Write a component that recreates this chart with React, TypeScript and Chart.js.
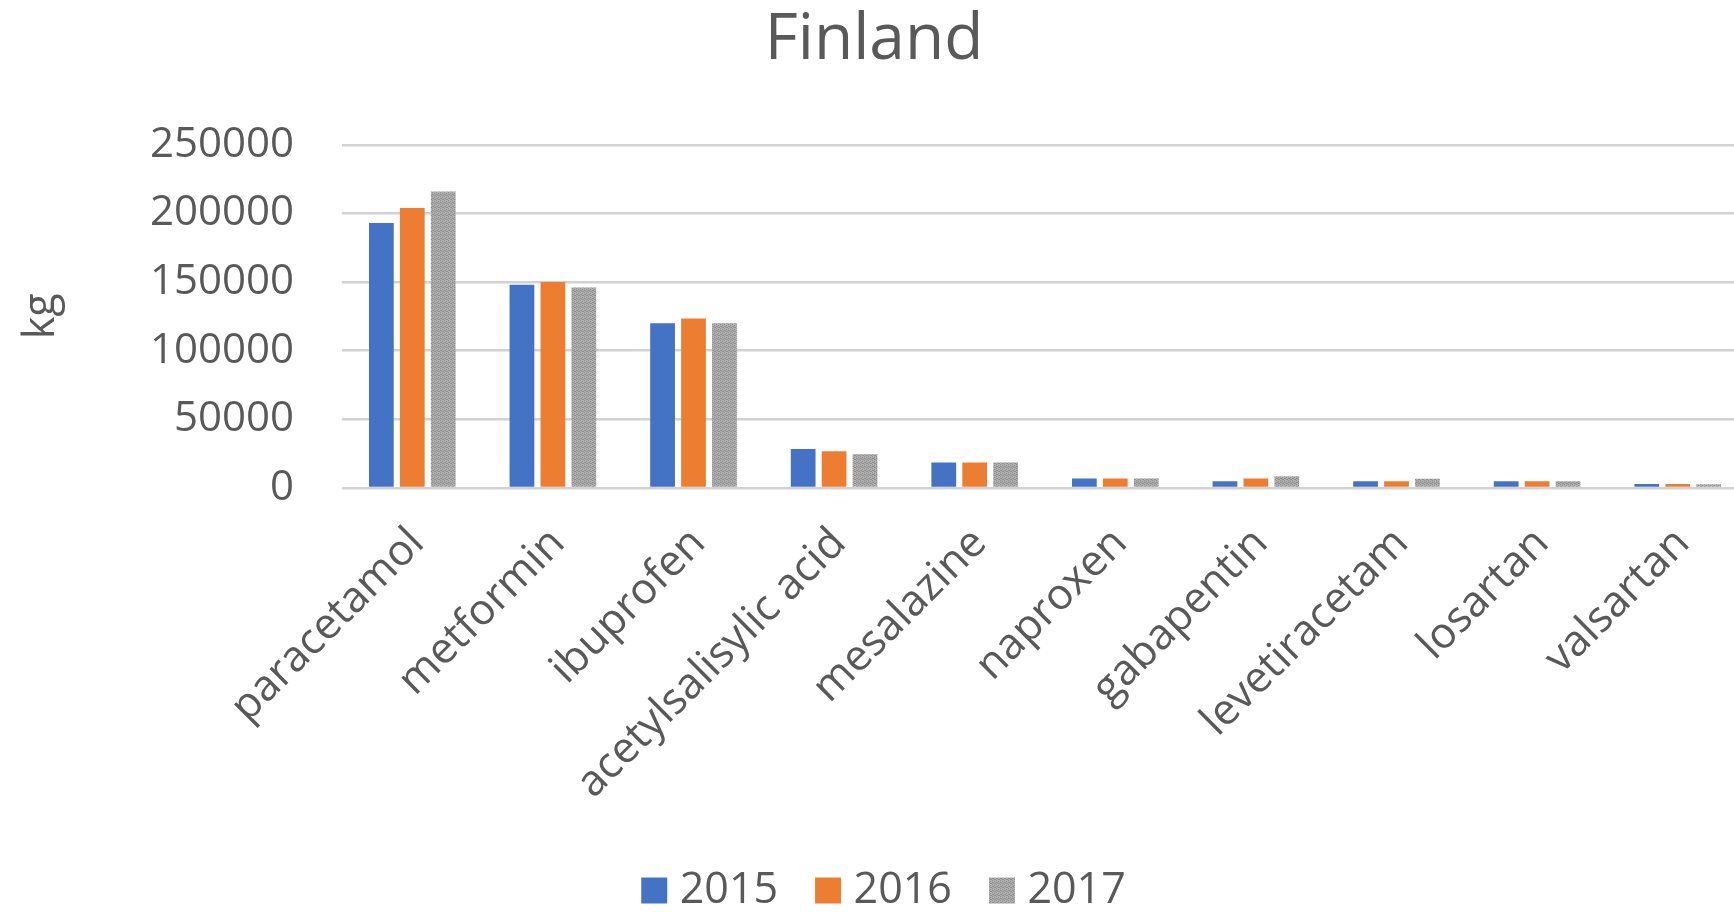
import React, { useEffect, useRef } from 'react';
import { Chart, registerables } from 'chart.js';

Chart.register(...registerables);

const chartTitle = 'Finland';
const yAxisTitle = 'kg';
const categories = [
  'paracetamol',
  'metformin',
  'ibuprofen',
  'acetylsalisylic acid',
  'mesalazine',
  'naproxen',
  'gabapentin',
  'levetiracetam',
  'losartan',
  'valsartan',
];
const seriesLabels = ['2015', '2016', '2017'];
const values2015 = [193000, 148000, 120000, 28400, 18500, 7000, 5000, 5000, 5000, 3000];
const values2016 = [204000, 150000, 123500, 26700, 18500, 7000, 7000, 5000, 5000, 3000];
const values2017 = [216000, 146000, 120000, 24600, 18500, 7000, 8600, 6800, 5000, 2800];
const yTicks = [0, 50000, 100000, 150000, 200000, 250000];

const CANVAS_W = 1752;
const CANVAS_H = 922;
const FONT = "'Open Sans', sans-serif";
const TEXT = '#595959';

function makeGrayPattern(): CanvasPattern | string {
  const c = document.createElement('canvas');
  c.width = 4;
  c.height = 4;
  const ctx = c.getContext('2d');
  if (!ctx) return '#a5a5a5';
  ctx.fillStyle = '#b0b0b0';
  ctx.fillRect(0, 0, 4, 4);
  ctx.fillStyle = '#8e8e8e';
  ctx.fillRect(0, 0, 1, 1);
  ctx.fillRect(2, 1, 1, 1);
  ctx.fillRect(1, 2, 1, 1);
  ctx.fillRect(3, 3, 1, 1);
  ctx.fillRect(2, 3, 1, 1);
  ctx.fillRect(0, 2, 1, 1);
  const p = ctx.createPattern(c, 'repeat');
  return p || '#a5a5a5';
}

const legendShift = {
  id: 'legendShift',
  afterLayout(chart: any) {
    if (chart.legend) {
      chart.legend.left += 14;
      chart.legend.right += 14;
    }
  },
};

export default function App() {
  const canvasRef = useRef<HTMLCanvasElement | null>(null);

  useEffect(() => {
    document.body.style.margin = '0';
    document.body.style.overflow = 'hidden';
    const canvas = canvasRef.current;
    if (!canvas) return;
    const gray = makeGrayPattern();
    const chart = new Chart(canvas, {
      type: 'bar',
      data: {
        labels: categories,
        datasets: [
          { label: seriesLabels[0], data: values2015, backgroundColor: '#4472C4', borderWidth: 0 },
          { label: seriesLabels[1], data: values2016, backgroundColor: '#ED7D31', borderWidth: 0 },
          { label: seriesLabels[2], data: values2017, backgroundColor: gray as any, borderWidth: 0 },
        ],
      },
      plugins: [legendShift],
      options: {
        responsive: false,
        animation: false,
        devicePixelRatio: 1,
        layout: { padding: { left: 0, right: 4, top: 0, bottom: 0 } },
        datasets: {
          bar: { categoryPercentage: 0.66, barPercentage: 0.8 },
        },
        plugins: {
          title: {
            display: true,
            text: chartTitle,
            color: TEXT,
            font: { family: FONT, size: 64, weight: 'normal', lineHeight: 1.2 },
            padding: { top: 2, bottom: 66 },
          },
          legend: {
            display: true,
            position: 'bottom',
            labels: {
              color: TEXT,
              font: { family: FONT, size: 43 },
              usePointStyle: true,
              pointStyle: 'rect',
              boxWidth: 8,
              boxHeight: 26,
              padding: 46,
            },
          },
          tooltip: { enabled: false },
        },
        scales: {
          x: {
            grid: { display: false, drawTicks: false },
            border: { display: false },
            ticks: {
              color: TEXT,
              font: { family: FONT, size: 43 },
              minRotation: 45,
              maxRotation: 45,
              padding: 30,
              labelOffset: 5,
              autoSkip: false,
            },
            afterFit: (scale: any) => {
              scale.height = 335;
            },
          },
          y: {
            min: 0,
            max: 250000,
            afterBuildTicks: (scale: any) => {
              scale.ticks = yTicks.map((v) => ({ value: v }));
            },
            grid: { color: '#d2d2d2', lineWidth: 2.5, drawTicks: false },
            border: { display: false },
            ticks: {
              color: TEXT,
              font: { family: FONT, size: 42 },
              padding: 48,
              callback: (v: any) => String(v),
            },
            title: {
              display: true,
              text: yAxisTitle,
              color: TEXT,
              font: { family: FONT, size: 43 },
              padding: { top: 16, bottom: 0 },
            },
            afterFit: (scale: any) => {
              scale.width = 342;
            },
          },
        },
      },
    });
    return () => chart.destroy();
  }, []);

  return (
    <div style={{ width: 1734, height: 912, overflow: 'hidden', position: 'relative', background: '#fff' }}>
      <canvas
        ref={canvasRef}
        width={CANVAS_W}
        height={CANVAS_H}
        style={{ display: 'block', width: CANVAS_W, height: CANVAS_H }}
      />
    </div>
  );
}
